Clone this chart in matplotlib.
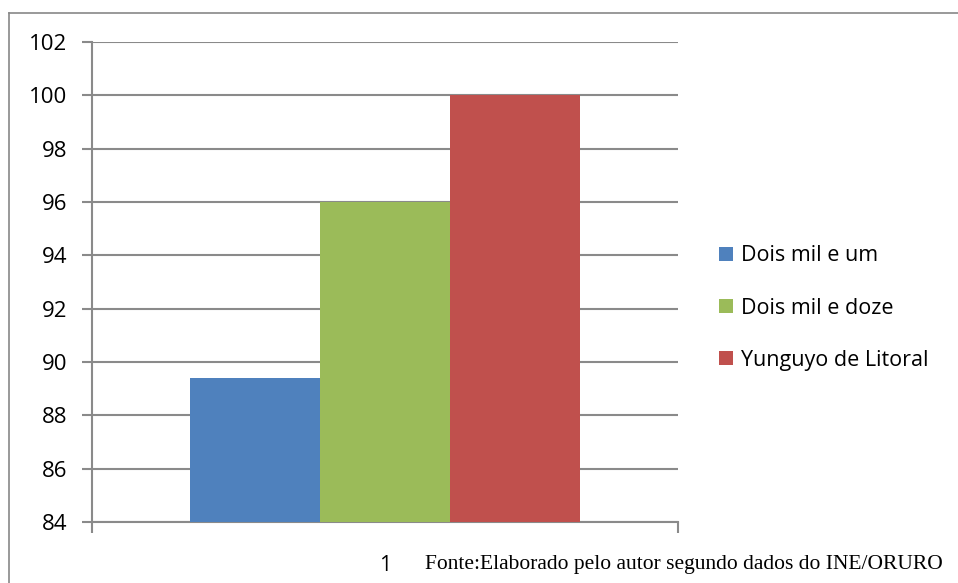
import numpy as np
import matplotlib.pyplot as plt
from matplotlib.patches import Patch
from matplotlib.lines import Line2D

# dados
series = ['Dois mil e um', 'Dois mil e doze', 'Yunguyo de Litoral']
valores = [89.4, 96.0, 100.0]
cores = ['#4f81bd', '#9bbb59', '#c0504d']
categorias = ['1']
yticks = [84, 86, 88, 90, 92, 94, 96, 98, 100, 102]
fonte = 'Fonte:Elaborado pelo autor segundo dados do INE/ORURO'

W, H, DPI = 958, 583, 100
fig = plt.figure(figsize=(W / DPI, H / DPI), dpi=DPI)
plt.rcParams['font.family'] = ['Open Sans', 'DejaVu Sans']

# moldura externa (so topo e esquerda visiveis)
fig.add_artist(Line2D([9 / W, 1], [1 - 13 / H, 1 - 13 / H], color='#888888', lw=1.2))
fig.add_artist(Line2D([9 / W, 9 / W], [0, 1 - 13 / H], color='#888888', lw=1.2))

ax = fig.add_axes([92 / W, (H - 522) / H, (678 - 92) / W, (522 - 42) / H])

largura = (390 / 586) / 3
x0 = np.arange(len(categorias))
for i, (s, v, c) in enumerate(zip(series, valores, cores)):
    ax.bar(x0 + (i - 1) * largura, [v], width=largura, color=c, label=s, zorder=3)

ax.set_ylim(84, 102)
ax.set_xlim(-0.5, 0.5)
ax.set_yticks(yticks)
ax.set_yticklabels([str(t) for t in yticks], fontsize=16)
ax.yaxis.grid(True, color='#8a8a8a', lw=1.5, zorder=0)
ax.tick_params(axis='y', length=7, width=1.5, color='#8a8a8a', pad=11)

ax.set_xticks(x0)
ax.set_xticklabels(categorias, fontsize=15.5)
ax.tick_params(axis='x', length=0, pad=24)
ax.set_xticks([-0.5, 0.5], minor=True)
ax.tick_params(axis='x', which='minor', length=8, width=1.5, color='#8a8a8a')

for lado in ['top', 'right']:
    ax.spines[lado].set_visible(False)
ax.spines['left'].set_color('#8a8a8a')
ax.spines['left'].set_linewidth(1.5)
ax.spines['bottom'].set_color('#8a8a8a')
ax.spines['bottom'].set_linewidth(1.5)

handles = [Patch(facecolor=c, label=s) for s, c in zip(series, cores)]
fig.legend(handles=handles, loc='center left', bbox_to_anchor=(700 / W, 1 - 308 / H),
           frameon=False, fontsize=15.5, handlelength=0.65, handleheight=0.65,
           handletextpad=0.35, labelspacing=1.45)

fig.text(425 / W, 1 - 564 / H, fonte, family=['Liberation Serif', 'DejaVu Serif'],
         fontsize=15.5, va='center', ha='left')

fig.savefig('out.png', dpi=DPI)
